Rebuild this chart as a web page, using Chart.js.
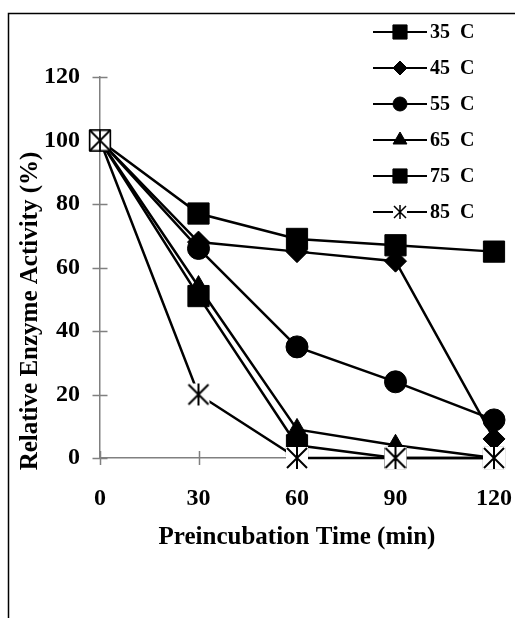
<!DOCTYPE html>
<html>
<head>
<meta charset="utf-8">
<script src="https://cdn.jsdelivr.net/npm/chart.js@4.4.1/dist/chart.umd.min.js"></script>
<style>
  body { margin: 0; background: #fff; }
  #wrap { width: 515px; height: 618px; }
</style>
</head>
<body>
<div id="wrap"><canvas id="grafico" width="515" height="618"></canvas></div>
<script>
// datos
const tiempos = [0, 30, 60, 90, 120];
const etiquetas = ['35  C', '45  C', '55  C', '65  C', '75  C', '85  C'];
const act35 = [100, 77, 69, 67, 65];
const act45 = [100, 68, 65, 62, 6];
const act55 = [100, 66, 35, 24, 12];
const act65 = [100, 54, 9, 4, 0];
const act75 = [100, 51, 4, 0, 0];
const act85 = [100, 20, 0, 0, 0];
const ticksX = [0, 30, 60, 90, 120];
const ticksY = [0, 20, 40, 60, 80, 100, 120];

const fuente = '"Liberation Serif", "Times New Roman", serif';

// marcador estrella de excel: X con linea vertical y fondo blanco cuadrado
function hacerEstrella(tam, fondo, brazo, grosor) {
    const c = document.createElement('canvas');
    c.width = tam; c.height = tam;
    const g = c.getContext('2d');
    const m = tam / 2;
    g.fillStyle = '#fff';
    g.fillRect(m - fondo / 2, m - fondo / 2, fondo, fondo);
    g.strokeStyle = '#000';
    g.lineWidth = grosor;
    g.beginPath();
    g.moveTo(m - brazo, m - brazo); g.lineTo(m + brazo, m + brazo);
    g.moveTo(m + brazo, m - brazo); g.lineTo(m - brazo, m + brazo);
    g.moveTo(m, m - brazo - 1); g.lineTo(m, m + brazo + 1);
    g.stroke();
    return c;
}
const estrella = hacerEstrella(24, 22, 10, 2);
const estrellaCero = hacerEstrella(24, 19, 10, 1.8);
const estrellaLey = hacerEstrella(16, 14, 6, 1.5);

function puntos(valores) {
    return valores.map((v, i) => ({ x: tiempos[i], y: v }));
}

function serie(i, valores, estilo, radio, orden, ocultarCero) {
    return {
        label: etiquetas[i],
        data: puntos(valores),
        borderColor: '#000',
        borderWidth: 2.5,
        backgroundColor: '#000',
        pointStyle: estilo,
        pointRadius: valores.map((v, k) => (k === 0 && ocultarCero) ? 0 : radio),
        pointBorderColor: '#000',
        pointBorderWidth: 1,
        pointBackgroundColor: '#000',
        tension: 0,
        clip: false,
        order: orden
    };
}

const estilosLey = [
    { estilo: 'rect', r: 10 },
    { estilo: 'rectRot', r: 7 },
    { estilo: 'circle', r: 7 },
    { estilo: 'triangle', r: 8 },
    { estilo: 'rect', r: 10 },
    { estilo: estrellaLey, r: 7 }
];

// marco, ticks cruzados, titulos y leyenda
const extras = {
    id: 'extras',
    beforeDraw(chart) {
        const ctx = chart.ctx;
        ctx.save();
        ctx.strokeStyle = '#000';
        ctx.lineWidth = 1.5;
        ctx.beginPath();
        ctx.moveTo(8.5, 618);
        ctx.lineTo(8.5, 13.5);
        ctx.lineTo(515, 13.5);
        ctx.stroke();
        ctx.restore();
    },
    beforeDatasetsDraw(chart) {
        const ctx = chart.ctx;
        const sx = chart.scales.x, sy = chart.scales.y;
        ctx.save();
        ctx.strokeStyle = '#808080';
        ctx.lineWidth = 1.5;
        ctx.beginPath();
        const x0 = sx.getPixelForValue(0);
        ticksY.forEach(v => {
            const y = Math.round(sy.getPixelForValue(v)) + 0.5;
            ctx.moveTo(x0 - 7.5, y); ctx.lineTo(x0 + 7.5, y);
        });
        const y0 = sy.getPixelForValue(0);
        ticksX.forEach(v => {
            const x = Math.round(sx.getPixelForValue(v)) + 0.5;
            ctx.moveTo(x, y0 - 7); ctx.lineTo(x, y0 + 7);
        });
        ctx.stroke();
        ctx.restore();
    },
    afterDatasetsDraw(chart) {
        const ctx = chart.ctx;
        ctx.save();
        // titulos de ejes
        ctx.fillStyle = '#000';
        ctx.font = 'bold 25px ' + fuente;
        ctx.textAlign = 'center';
        ctx.textBaseline = 'middle';
        ctx.fillText('Preincubation Time (min)', 297, 538);
        ctx.save();
        ctx.translate(31, 311);
        ctx.rotate(-Math.PI / 2);
        ctx.fillText('Relative Enzyme Activity (%)', 0, 0);
        ctx.restore();

        // leyenda
        ctx.font = 'bold 20px ' + fuente;
        ctx.textAlign = 'left';
        etiquetas.forEach((txt, i) => {
            const y = 32 + i * 36;
            ctx.strokeStyle = '#000';
            ctx.fillStyle = '#000';
            ctx.lineWidth = 2;
            ctx.beginPath();
            ctx.moveTo(373, y); ctx.lineTo(427, y);
            ctx.stroke();
            ctx.lineWidth = 1;
            Chart.helpers.drawPoint(ctx, {
                pointStyle: estilosLey[i].estilo,
                radius: estilosLey[i].r,
                rotation: 0,
                borderWidth: 1
            }, 400, y);
            ctx.fillStyle = '#000';
            ctx.fillText(txt, 430, y + 1);
        });
        ctx.restore();
    }
};

const myChart = new Chart(document.getElementById('grafico').getContext('2d'), {
    type: 'line',
    data: {
        datasets: [
            serie(0, act35, 'rect', 15, 1, false),
            serie(1, act45, 'rectRot', 11, 2, true),
            serie(2, act55, 'circle', 11, 3, true),
            serie(3, act65, 'triangle', 11, 4, true),
            serie(4, act75, 'rect', 15, 5, false),
            serie(5, act85, act85.map((v, k) => k === 0 ? estrellaCero : estrella), 12, 0, false)
        ]
    },
    options: {
        responsive: false,
        animation: false,
        events: [],
        layout: { padding: { top: 77, right: 21, left: 0, bottom: 0 } },
        plugins: {
            legend: { display: false },
            tooltip: { enabled: false },
            title: { display: false }
        },
        scales: {
            x: {
                type: 'linear',
                min: 0,
                max: 120,
                afterFit(scale) {
                    scale.height = 160;
                    scale.paddingLeft = 0;
                    scale.paddingRight = 0;
                },
                afterBuildTicks(scale) { scale.ticks = ticksX.map(v => ({ value: v })); },
                grid: { display: false, drawTicks: false },
                border: { display: true, color: '#808080', width: 1.5 },
                ticks: {
                    padding: 26,
                    color: '#000',
                    font: { family: fuente, size: 24, weight: 'bold' },
                    maxRotation: 0
                }
            },
            y: {
                min: 0,
                max: 120,
                afterFit(scale) {
                    scale.width = 100;
                    scale.paddingTop = 0;
                    scale.paddingBottom = 0;
                },
                afterBuildTicks(scale) { scale.ticks = ticksY.map(v => ({ value: v })); },
                grid: { display: false, drawTicks: false },
                border: { display: true, color: '#808080', width: 1.5 },
                ticks: {
                    padding: 20,
                    color: '#000',
                    font: { family: fuente, size: 24, weight: 'bold' }
                }
            }
        }
    },
    plugins: [extras]
});
</script>
</body>
</html>
